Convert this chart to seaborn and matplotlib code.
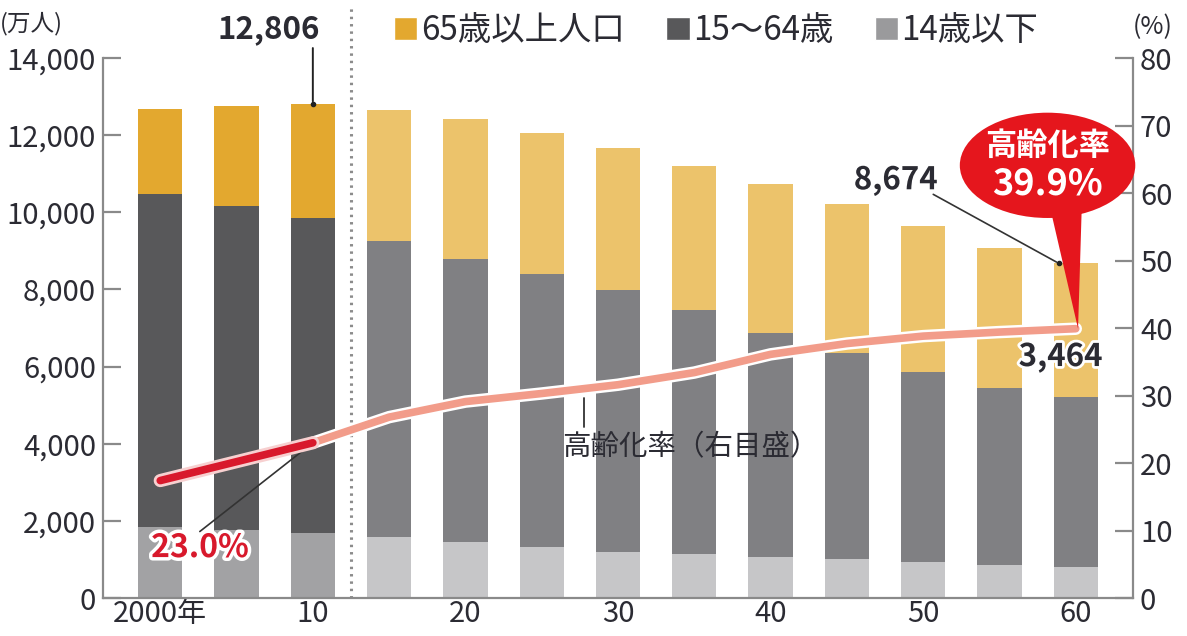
import numpy as np
import pandas as pd
import matplotlib.pyplot as plt
import matplotlib.patheffects as pe
from matplotlib.patches import Ellipse, Polygon, Patch
import seaborn as sns

years = [2000, 2005, 2010, 2015, 2020, 2025, 2030, 2035, 2040, 2045, 2050, 2055, 2060]
pop_65_over = [2204, 2576, 2948, 3395, 3612, 3657, 3685, 3741, 3868, 3856, 3768, 3626, 3464]
pop_15_64 = [8622, 8409, 8173, 7682, 7341, 7085, 6773, 6343, 5787, 5353, 4930, 4595, 4418]
pop_0_14 = [1847, 1759, 1685, 1583, 1457, 1324, 1204, 1129, 1073, 1012, 939, 861, 792]
aging_rate = [17.4, 20.2, 23.0, 26.8, 29.1, 30.3, 31.6, 33.4, 36.1, 37.7, 38.8, 39.4, 39.9]
tick_years = [2000, 2010, 2020, 2030, 2040, 2050, 2060]
tick_labels = ["2000年", "10", "20", "30", "40", "50", "60"]
legend_labels = ["65歳以上人口", "15〜64歳", "14歳以下"]
last_actual = 2010

# actual (dark) vs projected (light) colours
colors_65 = ("#E3A82F", "#ECC36B")
colors_1564 = ("#58585A", "#808083")
colors_014 = ("#A2A2A4", "#C6C6C8")
red = "#D8192C"
salmon = "#F29C8A"
bubble_red = "#E5161D"
text_dark = "#2B2B33"
axis_gray = "#8A8A8A"

sns.set_style("white")
plt.rcParams["font.family"] = ["Noto Sans CJK JP", "DejaVu Sans"]

df = pd.DataFrame({
    "year": [str(y) for y in years],
    "young": pop_0_14,
    "working": pop_15_64,
    "old": pop_65_over,
})
df["lower"] = df["young"] + df["working"]
df["total"] = df["lower"] + df["old"]
actual = [y <= last_actual for y in years]


def pal(pair):
    return {str(y): pair[0] if a else pair[1] for y, a in zip(years, actual)}


fig = plt.figure(figsize=(11.87, 6.36), dpi=100)
ax = fig.add_axes([0.0868, 0.0597, 0.8677, 0.8491])

for col, pair in [("total", colors_65), ("lower", colors_1564), ("young", colors_014)]:
    sns.barplot(data=df, x="year", y=col, hue="year", palette=pal(pair),
                width=0.58, saturation=1, linewidth=0, legend=False, ax=ax)

ax.set_xlim(-0.75, len(years) - 0.25)
ax.set_ylim(0, 14000)
ax.set_yticks(range(0, 14001, 2000))
ax.set_yticklabels([f"{v:,}" for v in range(0, 14001, 2000)])
ax.set_xticks([years.index(y) for y in tick_years])
ax.set_xticklabels(tick_labels)
ax.set_xlabel("")
ax.set_ylabel("")
ax.tick_params(axis="y", direction="in", length=13, width=1.6, color=axis_gray,
               labelsize=21, labelcolor=text_dark, pad=5)
ax.tick_params(axis="x", length=0, labelsize=21, labelcolor=text_dark, pad=1)
for side in ["top", "right"]:
    ax.spines[side].set_visible(False)
for side in ["left", "bottom"]:
    ax.spines[side].set_color(axis_gray)
    ax.spines[side].set_linewidth(1.6)

# separator between actual and projected values
sep = sum(actual) - 0.5
ax.axvline(sep, ymin=0, ymax=1.1, clip_on=False, color="#8C8C8C",
           lw=2.2, ls=(0, (0.8, 1.6)), zorder=0.5)

ax2 = ax.twinx()
ax2.set_ylim(0, 80)
ax2.set_yticks(range(0, 81, 10))
ax2.tick_params(axis="y", direction="in", length=13, width=1.6, color=axis_gray,
                labelsize=21, labelcolor=text_dark, pad=5)
for side in ["top", "left", "bottom"]:
    ax2.spines[side].set_visible(False)
ax2.spines["right"].set_color(axis_gray)
ax2.spines["right"].set_linewidth(1.6)

pos = np.arange(len(years))
n_act = sum(actual)
sns.lineplot(x=pos[n_act - 1:], y=aging_rate[n_act - 1:], color=salmon, lw=5.5,
             solid_capstyle="round", ax=ax2,
             path_effects=[pe.Stroke(linewidth=9, foreground="white"), pe.Normal()])
sns.lineplot(x=pos[:n_act], y=aging_rate[:n_act], color=red, lw=5.5,
             solid_capstyle="round", ax=ax2,
             path_effects=[pe.Stroke(linewidth=9.5, foreground="#F7D0D0"), pe.Normal()])
ax2.set_xlim(ax.get_xlim())

# units
fig.text(0.0, 0.963, "(万人)", fontsize=17, color=text_dark, va="center")
fig.text(0.954, 0.957, "(%)", fontsize=18, color=text_dark, va="center")

# legend
handles = [Patch(facecolor=c) for c in (colors_65[0], colors_1564[0], "#9A9A9C")]
fig.legend(handles, legend_labels, loc="center left", bbox_to_anchor=(0.332, 0.952),
           ncol=3, frameon=False, fontsize=24, handlelength=0.7, handleheight=0.7,
           handletextpad=0.1, columnspacing=1.25, labelcolor=text_dark,
           borderaxespad=0, borderpad=0)

outline = [pe.withStroke(linewidth=4, foreground="white")]

# 12,806 label
i10 = years.index(2010)
ax.annotate("", xy=(i10, df["total"][i10]), xytext=(i10, 14330),
            arrowprops=dict(arrowstyle="-", color="#222222", lw=1.4), annotation_clip=False)
ax.plot([i10], [df["total"][i10]], marker="o", ms=3, color="#222222")
ax.text(i10 - 0.58, 14330, f"{df['total'][i10]:,}", ha="center", va="bottom",
        fontsize=22.5, fontweight="bold", color=text_dark)

# 8,674 label
i60 = len(years) - 1
ax.annotate("", xy=(i60 - 0.22, df["total"][i60]), xytext=(i60 - 1.9, 10500),
            arrowprops=dict(arrowstyle="-", color="#333333", lw=1.2))
ax.plot([i60 - 0.22], [df["total"][i60]], marker="o", ms=3, color="#222222")
ax.text(i60 - 2.36, 10830, f"{df['total'][i60]:,}", ha="center", va="center",
        fontsize=22.5, fontweight="bold", color=text_dark, path_effects=outline)

# 3,464 label
ax2.text(i60 - 0.2, 35.7, f"{pop_65_over[-1]:,}", ha="center", va="center",
         fontsize=22.5, fontweight="bold", color=text_dark, path_effects=outline, zorder=5)

# 23.0% label
ax2.annotate("", xy=(i10, aging_rate[i10]), xytext=(0.49, 9.6),
             arrowprops=dict(arrowstyle="-", color="#333333", lw=1.2), zorder=1)
ax2.text(0.52, 7.4, f"{aging_rate[i10]:.1f}%", ha="center", va="center",
         fontsize=23, fontweight="bold", color=red,
         path_effects=[pe.withStroke(linewidth=5, foreground="white")])

# series label
ax2.plot([5.55, 5.55], [25.4, 29.7], color="#333333", lw=1.3)
ax2.text(6.95, 22.4, "高齢化率（右目盛）", ha="center", va="center",
         fontsize=20.5, color=text_dark)

# speech bubble
ax2.add_patch(Polygon([(11.66, 58.0), (12.08, 58.5), (i60 + 0.03, aging_rate[-1])],
                      closed=True, facecolor=bubble_red, edgecolor="none",
                      clip_on=False, zorder=6))
ax2.add_patch(Ellipse((11.63, 64.1), 2.3, 15.6, facecolor=bubble_red,
                      edgecolor="none", clip_on=False, zorder=6))
ax2.text(11.63, 67.0, "高齢化率", ha="center", va="center", fontsize=22.5,
         fontweight="bold", color="white", zorder=7)
ax2.text(11.63, 61.3, f"{aging_rate[-1]:.1f}%", ha="center", va="center",
         fontsize=26, fontweight="bold", color="white", zorder=7)

fig.savefig("out.png", dpi=100)
